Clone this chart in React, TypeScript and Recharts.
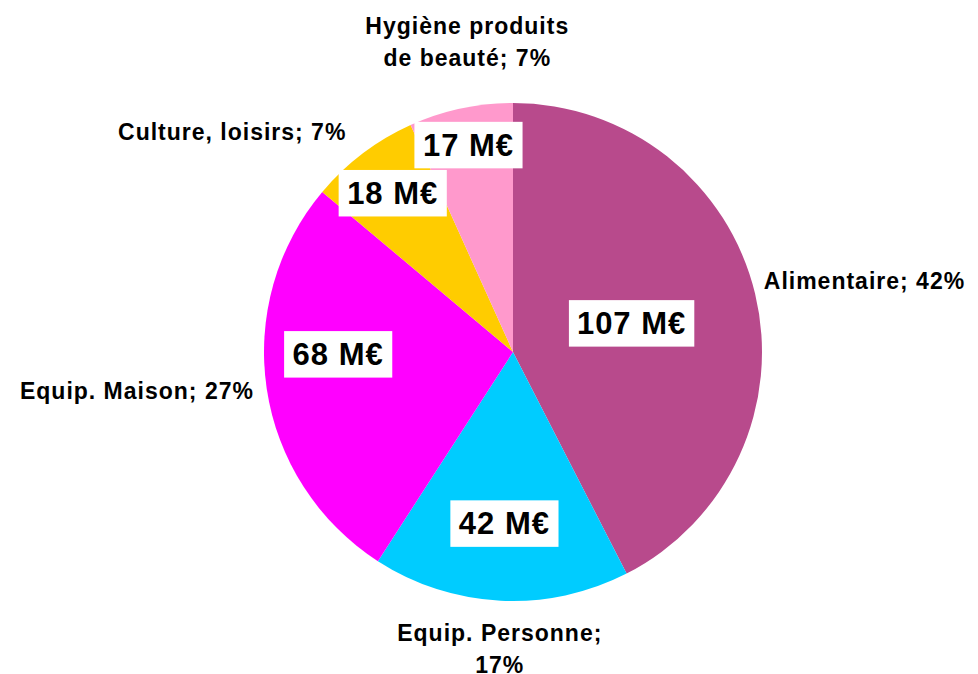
import { PieChart, Pie, Cell } from 'recharts';

const categories = ['Alimentaire', 'Equip. Personne', 'Equip. Maison', 'Culture, loisirs', 'Hygiène produits de beauté'];
const amounts = [107, 42, 68, 18, 17];
const colors = ['#B84A8C', '#00CCFF', '#FF00FF', '#FFCC00', '#FF99CC'];

const data = categories.map((name, i) => ({ name, value: amounts[i] }));

// label placement per slice: fraction of radius for the value box, px radius for the name,
// plus small nudges (Excel "best fit" does not keep labels exactly on the mid-angle)
const LABEL_POS = [
  { inner: 0.49, outer: 258, boxDy: 0, nameDx: 0, nameDy: -10 },
  { inner: 0.69, outer: 265, boxDy: 0, nameDx: 0, nameDy: 0 },
  { inner: 0.71, outer: 262, boxDy: -24, nameDx: 0, nameDy: 0 },
  { inner: 0.8, outer: 276, boxDy: 0, nameDx: 0, nameDy: 0 },
  { inner: 0.85, outer: 284, boxDy: 0, nameDx: 14, nameDy: 0 },
];

const RADIAN = Math.PI / 180;
const FONT = 'Liberation Sans, Arial, sans-serif';
const CHAR_W: Record<string, number> = { ' ': 0.278, M: 0.833, '€': 0.556 };
const textW = (s: string, fs: number) => s.split('').reduce((w, c) => w + (CHAR_W[c] ?? 0.556), 0) * fs;

function wrap(text: string, max: number) {
  const lines: string[] = [];
  let cur = '';
  text.split(' ').forEach(w => {
    if (cur && (cur + ' ' + w).length > max) { lines.push(cur); cur = w; }
    else cur = cur ? cur + ' ' + w : w;
  });
  if (cur) lines.push(cur);
  return lines;
}

function renderLabel(props: any) {
  const { cx, cy, midAngle, outerRadius, index, value, percent, name } = props;
  const pos = LABEL_POS[index];
  const cos = Math.cos(-midAngle * RADIAN);
  const sin = Math.sin(-midAngle * RADIAN);

  // value box inside slice
  const ir = outerRadius * pos.inner;
  const ix = cx + ir * cos;
  const iy = cy + ir * sin + pos.boxDy;
  const vText = `${value} M€`;
  const fs = 31;
  const bw = textW(vText, fs) + 22;
  const bh = fs * 1.5;

  // category name outside
  const ox = cx + pos.outer * cos + pos.nameDx;
  const oy = cy + pos.outer * sin + pos.nameDy;
  const full = `${name}; ${Math.round(percent * 100)}%`;
  const middle = Math.abs(cos) < 0.35;
  const anchor = middle ? 'middle' : cos > 0 ? 'start' : 'end';
  const lines = middle ? wrap(full, 17) : [full];
  const lh = 32;
  let firstY: number;
  if (!middle) firstY = oy - ((lines.length - 1) * lh) / 2;
  else if (sin > 0) firstY = oy + lh / 2;
  else firstY = oy - (lines.length - 0.5) * lh;

  return (
    <g>
      <rect x={ix - bw / 2} y={iy - bh / 2} width={bw} height={bh} fill="#fff" />
      <text x={ix} y={iy} textAnchor="middle" dominantBaseline="central"
        style={{ fontFamily: FONT, fontWeight: 700, fontSize: fs, letterSpacing: 1, fill: '#000' }}>
        {vText}
      </text>
      <text textAnchor={anchor} style={{ fontFamily: FONT, fontWeight: 700, fontSize: 23, letterSpacing: 1, fill: '#000' }}>
        {lines.map((l, k) => (
          <tspan key={k} x={ox} y={firstY + k * lh} dominantBaseline="central">{l}</tspan>
        ))}
      </text>
    </g>
  );
}

export default function App() {
  return (
    <div style={{ position: 'absolute', left: 0, top: 0, width: 978, height: 674, background: '#fff' }}>
      <PieChart width={978} height={674} margin={{ top: 0, right: 0, bottom: 0, left: 0 }}>
        <Pie
          data={data}
          dataKey="value"
          nameKey="name"
          cx={513}
          cy={352}
          outerRadius={249}
          startAngle={90}
          endAngle={-270}
          stroke="none"
          label={renderLabel}
          labelLine={false}
          isAnimationActive={false}
        >
          {data.map((d, i) => <Cell key={d.name} fill={colors[i]} />)}
        </Pie>
      </PieChart>
    </div>
  );
}
